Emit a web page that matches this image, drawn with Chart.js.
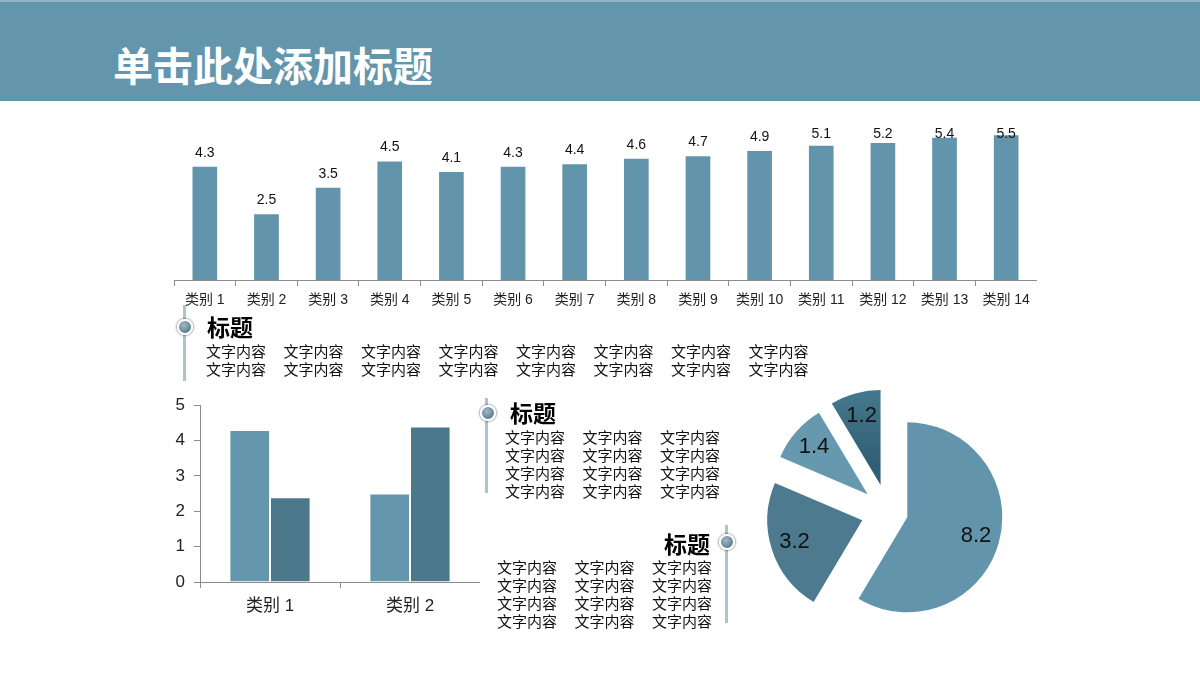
<!DOCTYPE html>
<html>
<head>
<meta charset="utf-8">
<script src="https://cdn.jsdelivr.net/npm/chart.js@4.4.1/dist/chart.umd.min.js"></script>
<style>
body{margin:0;width:1200px;height:680px;position:relative;background:#fff;overflow:hidden;}
#header{position:absolute;left:0;top:0;width:1200px;height:101px;background:#6395ad;border-top:2px solid #8fb4c5;box-sizing:border-box;}
#header h1{margin:0;position:absolute;left:113px;top:42px;font:bold 40px "Noto Sans CJK SC";line-height:40px;color:#fff;white-space:nowrap;}
canvas{position:absolute;}
.ttl{position:absolute;font:bold 23px "Noto Sans CJK SC";line-height:23px;color:#000;white-space:nowrap;}
.txt{position:absolute;display:grid;grid-auto-rows:18px;font:15px "Noto Sans CJK SC";line-height:18px;color:#111;white-space:nowrap;}
.bullet{position:absolute;width:12px;height:12px;border-radius:50%;background:radial-gradient(circle at 40% 35%,#a3bac6,#5a7c8d 75%);border:2px solid #fff;box-shadow:0 0 2px 1px rgba(0,0,0,0.35);}
.vline{position:absolute;width:3px;background:#aac5d1;}
</style>
</head>
<body>
<div id="header"><h1>单击此处添加标题</h1></div>

<canvas id="topChart" style="left:174px;top:122px" width="863" height="193"></canvas>
<canvas id="groupChart" style="left:170px;top:386px" width="310" height="231"></canvas>
<canvas id="pieChart" style="left:748px;top:372px" width="280" height="280"></canvas>

<div class="vline" style="left:183px;top:305px;height:76px"></div>
<div class="bullet" style="left:177px;top:319px"></div>
<div class="ttl" style="left:207px;top:315px">标题</div>
<div class="txt" id="txt1" style="left:206px;top:342px;grid-template-columns:repeat(8,77.5px)"></div>

<div class="vline" style="left:485px;top:398px;height:95px"></div>
<div class="bullet" style="left:480px;top:405px"></div>
<div class="ttl" style="left:510px;top:401px">标题</div>
<div class="txt" id="txt2" style="left:505px;top:428px;grid-template-columns:repeat(3,77.5px)"></div>

<div class="vline" style="left:725px;top:525px;height:98px"></div>
<div class="bullet" style="left:719px;top:534px"></div>
<div class="ttl" style="left:660px;top:532px;width:50px;text-align:right">标题</div>
<div class="txt" id="txt3" style="left:497px;top:558px;grid-template-columns:repeat(3,77.5px)"></div>

<script>
// 上方柱状图
const topLabels = ['类别 1', '类别 2', '类别 3', '类别 4', '类别 5', '类别 6', '类别 7',
    '类别 8', '类别 9', '类别 10', '类别 11', '类别 12', '类别 13', '类别 14'];
const topValues = [4.3, 2.5, 3.5, 4.5, 4.1, 4.3, 4.4, 4.6, 4.7, 4.9, 5.1, 5.2, 5.4, 5.5];

// 左下分组柱状图
const groupLabels = ['类别 1', '类别 2'];
const groupSeries1 = [4.3, 2.5];
const groupSeries2 = [2.4, 4.4];
const groupTicks = [0, 1, 2, 3, 4, 5];

// 饼图
const pieLabels = ['A', 'B', 'C', 'D'];
const pieValues = [8.2, 3.2, 1.4, 1.2];

// 文字块
const blockText = '文字内容';
function fillText(id, cols, rows) {
    const el = document.getElementById(id);
    for (let i = 0; i < cols * rows; i++) {
        const s = document.createElement('span');
        s.textContent = blockText;
        el.appendChild(s);
    }
}
fillText('txt1', 8, 2);
fillText('txt2', 3, 4);
fillText('txt3', 3, 4);

const latin = '"Liberation Sans", "Noto Sans CJK SC", sans-serif';

const barValueLabels = {
    id: 'barValueLabels',
    afterDatasetsDraw(chart) {
        const ctx = chart.ctx;
        const meta = chart.getDatasetMeta(0);
        const minY = chart.chartArea.top + 19;
        ctx.save();
        ctx.font = '14px ' + latin;
        ctx.fillStyle = '#111';
        ctx.textAlign = 'center';
        ctx.textBaseline = 'bottom';
        meta.data.forEach((bar, i) => {
            const y = Math.max(bar.y - 7, minY);
            ctx.fillText(topValues[i].toString(), bar.x, y);
        });
        ctx.restore();
    }
};

new Chart(document.getElementById('topChart'), {
    type: 'bar',
    data: {
        labels: topLabels,
        datasets: [{
            data: topValues,
            backgroundColor: '#6294ab',
            categoryPercentage: 1,
            barPercentage: 0.4
        }]
    },
    options: {
        responsive: false,
        animation: false,
        events: [],
        layout: { padding: 0 },
        plugins: { legend: { display: false }, tooltip: { enabled: false } },
        scales: {
            x: {
                grid: { offset: true, drawOnChartArea: false, tickLength: 6, color: '#8c8c8c' },
                border: { color: '#8c8c8c' },
                ticks: { font: { size: 14, family: latin }, color: '#222', padding: 6, maxRotation: 0, autoSkip: false },
                afterFit(scale) { scale.height = 35; }
            },
            y: { display: false, min: 0, max: 6 }
        }
    },
    plugins: [barValueLabels]
});

new Chart(document.getElementById('groupChart'), {
    type: 'bar',
    data: {
        labels: groupLabels,
        datasets: [{
            data: groupSeries1,
            backgroundColor: '#6496ae',
            borderColor: 'rgba(255,255,255,0.35)',
            borderWidth: 1,
            categoryPercentage: 0.58,
            barPercentage: 1
        }, {
            data: groupSeries2,
            backgroundColor: '#4c788b',
            borderColor: 'rgba(255,255,255,0.25)',
            borderWidth: 1,
            categoryPercentage: 0.58,
            barPercentage: 1
        }]
    },
    options: {
        responsive: false,
        animation: false,
        events: [],
        layout: { padding: 0 },
        plugins: { legend: { display: false }, tooltip: { enabled: false } },
        scales: {
            x: {
                grid: { offset: true, drawOnChartArea: false, tickLength: 6, color: '#8c8c8c' },
                border: { color: '#8c8c8c' },
                ticks: { font: { size: 17, family: latin }, color: '#222', padding: 8 },
                afterFit(scale) { scale.height = 35; }
            },
            y: {
                min: groupTicks[0],
                max: groupTicks[groupTicks.length - 1],
                afterBuildTicks(scale) { scale.ticks = groupTicks.map(v => ({ value: v })); },
                grid: { drawOnChartArea: false, tickLength: 6, color: '#8c8c8c' },
                border: { color: '#8c8c8c' },
                ticks: { font: { size: 17, family: latin }, color: '#222', padding: 9 },
                afterFit(scale) { scale.width = 30; }
            }
        }
    }
});

const pieExplode = {
    id: 'pieExplode',
    beforeDatasetDraw(chart, args, opts) {
        const ctx = chart.ctx;
        args.meta.data.forEach((arc, i) => {
            const mid = (arc.startAngle + arc.endAngle) / 2;
            const d = opts.distances[i] || 0;
            ctx.save();
            ctx.translate(Math.cos(mid) * d, Math.sin(mid) * d);
            arc.draw(ctx);
            ctx.restore();
        });
        return false;
    },
    afterDatasetsDraw(chart, args, opts) {
        const ctx = chart.ctx;
        const meta = chart.getDatasetMeta(0);
        ctx.save();
        ctx.font = '22px ' + latin;
        ctx.fillStyle = '#111';
        ctx.textAlign = 'center';
        ctx.textBaseline = 'middle';
        meta.data.forEach((arc, i) => {
            const mid = (arc.startAngle + arc.endAngle) / 2;
            const r = (opts.distances[i] || 0) + arc.outerRadius * 0.75;
            ctx.fillText(pieValues[i].toString(), arc.x + Math.cos(mid) * r, arc.y + Math.sin(mid) * r);
        });
        ctx.restore();
    }
};

const pieColors = ['#6294ab', '#4d7a8e', '#6699b0', null];

new Chart(document.getElementById('pieChart'), {
    type: 'pie',
    data: {
        labels: pieLabels,
        datasets: [{
            data: pieValues,
            borderWidth: 0,
            backgroundColor(context) {
                const i = context.dataIndex;
                if (pieColors[i]) return pieColors[i];
                const chart = context.chart;
                const area = chart.chartArea;
                if (!area) return '#3f7086';
                const g = chart.ctx.createLinearGradient(0, area.top + 20, 0, area.top + 120);
                g.addColorStop(0, '#4c8097');
                g.addColorStop(1, '#305f73');
                return g;
            }
        }]
    },
    options: {
        responsive: false,
        animation: false,
        events: [],
        radius: 95,
        layout: { padding: 0 },
        plugins: {
            legend: { display: false },
            tooltip: { enabled: false },
            pieExplode: { distances: [20, 27, 27, 28] }
        }
    },
    plugins: [pieExplode]
});
</script>
</body>
</html>
